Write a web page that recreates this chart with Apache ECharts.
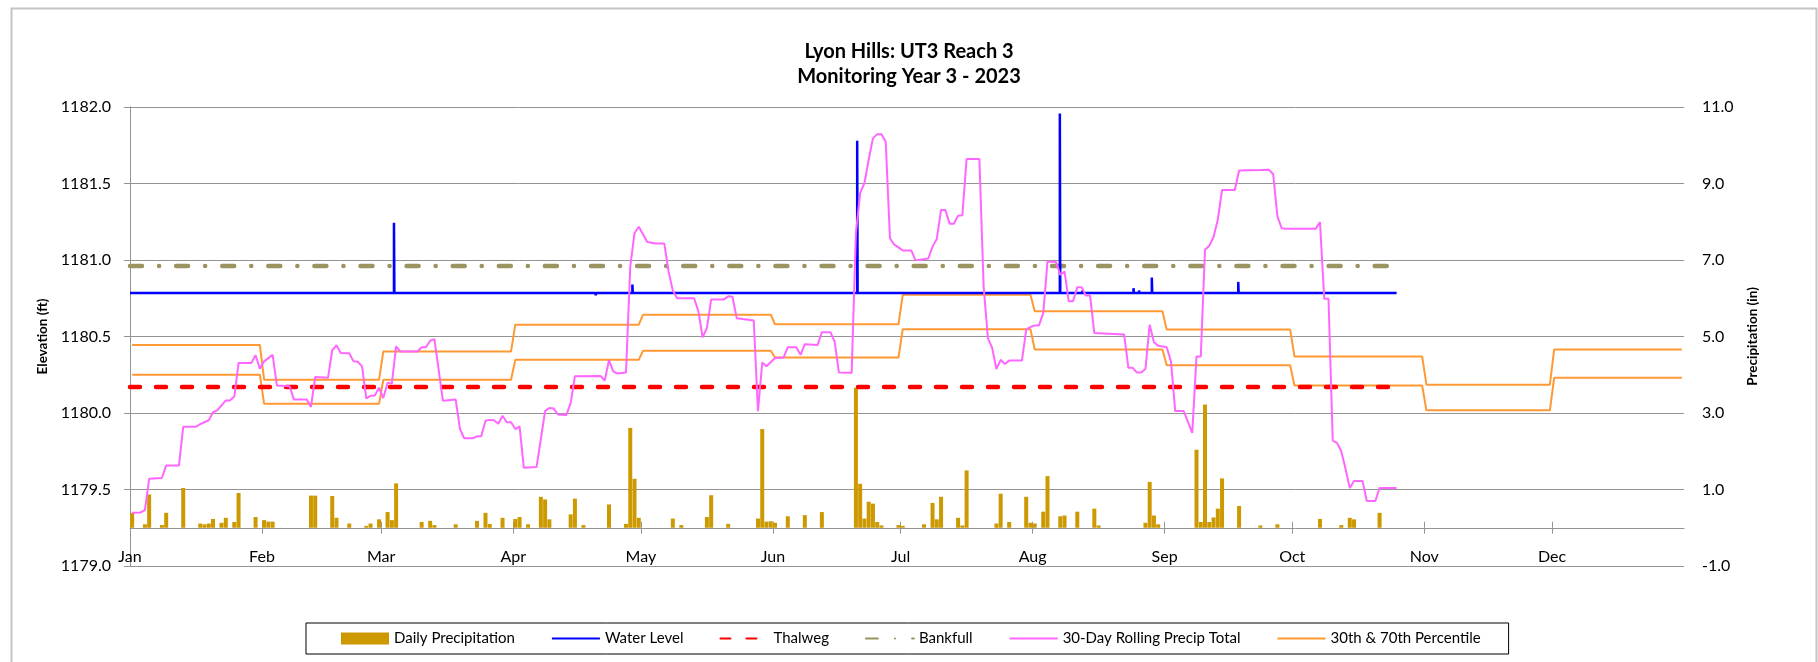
<!DOCTYPE html>
<html>
<head>
<meta charset="utf-8">
<script src="https://cdn.jsdelivr.net/npm/echarts@6/dist/echarts.min.js"></script>
<style>
  html, body { margin: 0; padding: 0; background: #fff; }
  #chart { width: 1818px; height: 662px; }
</style>
</head>
<body>
<div id="chart"></div>
<script>
// month axis
const monthNames = ['Jan', 'Feb', 'Mar', 'Apr', 'May', 'Jun', 'Jul', 'Aug', 'Sep', 'Oct', 'Nov', 'Dec']
const monthStarts = [0, 31, 59, 90, 120, 151, 181, 212, 243, 273, 304, 334]
const monthLengths = [31, 28, 31, 30, 31, 30, 31, 31, 30, 31, 30, 31]

// 30th / 70th percentile of 30-day rolling precip (in), one value per month
const pct70 = [4.78, 3.87, 4.61, 5.31, 5.57, 5.32, 6.09, 5.66, 5.18, 4.48, 3.74, 4.66]
const pct30 = [4.00, 3.24, 3.87, 4.39, 4.63, 4.45, 5.19, 4.66, 4.25, 3.72, 3.07, 3.92]

// reference elevations (ft) and the span of the gauge record (days from Jan 1)
const thalweg = 1180.17
const bankfull = 1180.96
const recordSpan = [0, 297.5]

// water level (ft): [days from Jan 1, elevation]
const waterLevel = [
  [0, 1180.785], [62, 1180.785], [62, 1181.244], [62.1, 1180.785],
  [109.3, 1180.785], [109.4, 1180.77], [109.5, 1180.785],
  [118, 1180.785], [118, 1180.84], [118.1, 1180.785],
  [170.8, 1180.785], [170.8, 1181.78], [170.9, 1180.785],
  [218.4, 1180.785], [218.4, 1181.958], [218.5, 1180.785],
  [223.7, 1180.785], [223.7, 1180.80], [223.8, 1180.785],
  [235.7, 1180.785], [235.7, 1180.816], [235.8, 1180.785],
  [237, 1180.785], [237, 1180.80], [237.1, 1180.785],
  [240, 1180.785], [240, 1180.885], [240.1, 1180.785],
  [260.3, 1180.785], [260.3, 1180.857], [260.4, 1180.785],
  [297.5, 1180.785]
]

// daily precipitation (in): [day of year, inches]
const dailyPrecip = [
  [1, 0.39], [4, 0.09], [5, 0.87], [8, 0.07], [9, 0.39], [13, 1.04], [17, 0.11], [18, 0.09],
  [19, 0.11], [20, 0.23], [22, 0.13], [23, 0.26], [25, 0.15], [26, 0.91], [30, 0.28], [32, 0.20],
  [33, 0.16], [34, 0.16], [43, 0.84], [44, 0.84], [48, 0.83], [49, 0.26], [52, 0.11], [56, 0.05],
  [57, 0.11], [59, 0.22], [61, 0.41], [62, 0.20], [63, 1.16], [69, 0.15], [71, 0.18], [72, 0.07],
  [77, 0.09], [82, 0.18], [84, 0.39], [85, 0.10], [88, 0.26], [91, 0.23], [92, 0.28], [94, 0.09],
  [97, 0.81], [98, 0.74], [99, 0.22], [104, 0.35], [105, 0.76], [107, 0.07], [113, 0.61], [117, 0.10],
  [118, 2.61], [119, 1.28], [120, 0.26], [128, 0.24], [130, 0.07], [136, 0.28], [137, 0.85], [141, 0.10],
  [148, 0.24], [149, 2.58], [150, 0.16], [151, 0.17], [152, 0.13], [155, 0.30], [159, 0.33], [163, 0.41],
  [171, 3.66], [172, 1.15], [173, 0.24], [174, 0.68], [175, 0.63], [176, 0.15], [177, 0.06], [181, 0.07],
  [182, 0.05], [187, 0.09], [189, 0.65], [190, 0.22], [191, 0.81], [195, 0.26], [196, 0.06], [197, 1.50],
  [204, 0.11], [205, 0.89], [207, 0.15], [211, 0.81], [212, 0.13], [213, 0.11], [215, 0.42], [216, 1.35],
  [219, 0.30], [220, 0.32], [223, 0.42], [227, 0.50], [228, 0.06], [239, 0.13], [240, 1.20], [241, 0.32],
  [242, 0.09], [251, 2.04], [252, 0.15], [253, 3.22], [254, 0.15], [255, 0.27], [256, 0.50], [257, 1.29],
  [261, 0.57], [266, 0.06], [270, 0.09], [280, 0.23], [285, 0.07], [287, 0.26], [288, 0.22], [294, 0.39]
]

// 30-day rolling precip total (in): [day of year, inches]
const rollingPrecip = [
  [1, 0.39], [3, 0.40], [4, 0.46], [5, 1.28], [8, 1.30], [9, 1.63], [12, 1.63], [13, 2.64], [16, 2.64],
  [17, 2.71], [19, 2.81], [20, 3.02], [21, 3.07], [23, 3.33], [24, 3.33], [25, 3.43], [26, 4.31], [29, 4.31],
  [30, 4.51], [31, 4.16], [32, 4.35], [34, 4.52], [35, 3.72], [38, 3.70], [39, 3.35], [42, 3.35], [43, 3.16],
  [44, 3.94], [47, 3.92], [48, 4.64], [49, 4.77], [50, 4.57], [52, 4.56], [53, 4.35], [54, 4.34], [55, 4.22],
  [56, 3.38], [57, 3.45], [58, 3.46], [59, 3.66], [60, 3.39], [61, 3.79], [62, 3.77], [63, 4.74], [64, 4.61],
  [68, 4.61], [69, 4.72], [70, 4.72], [71, 4.89], [72, 4.93], [74, 3.32], [77, 3.35], [78, 2.58], [79, 2.34],
  [81, 2.34], [82, 2.39], [83, 2.39], [84, 2.80], [85, 2.82], [86, 2.81], [87, 2.72], [88, 2.93], [89, 2.76],
  [90, 2.76], [91, 2.58], [92, 2.65], [93, 1.57], [96, 1.59], [97, 2.32], [98, 3.05], [99, 3.13], [100, 3.12],
  [101, 2.96], [103, 2.95], [104, 3.26], [105, 3.96], [111, 3.97], [112, 3.85], [113, 4.38], [114, 4.09],
  [115, 4.03], [117, 4.06], [118, 6.83], [119, 7.70], [120, 7.87], [122, 7.47], [124, 7.43], [126, 7.43],
  [127, 6.70], [128, 6.20], [129, 6.00], [133, 6.00], [134, 5.66], [135, 4.98], [136, 5.22], [137, 5.97],
  [140, 5.97], [141, 6.05], [142, 6.04], [143, 5.48], [147, 5.42], [148, 3.05], [149, 4.32], [150, 4.22],
  [152, 4.44], [154, 4.45], [155, 4.72], [157, 4.72], [158, 4.52], [159, 4.80], [162, 4.78], [163, 5.11],
  [165, 5.11], [166, 4.87], [167, 4.06], [170, 4.05], [171, 7.70], [172, 8.75], [173, 9.01], [174, 9.62],
  [175, 10.18], [176, 10.29], [177, 10.29], [178, 10.09], [179, 7.57], [180, 7.40], [181, 7.33], [182, 7.25],
  [184, 7.25], [185, 6.99], [188, 7.04], [189, 7.35], [190, 7.55], [191, 8.31], [192, 8.31], [193, 7.95],
  [194, 7.95], [195, 8.16], [196, 8.17], [197, 9.64], [200, 9.64], [201, 6.31], [202, 4.96], [203, 4.70],
  [204, 4.15], [205, 4.39], [206, 4.28], [207, 4.37], [210, 4.37], [211, 5.18], [212, 5.25], [213, 5.29],
  [214, 5.29], [215, 5.61], [216, 6.96], [218, 6.95], [219, 6.61], [220, 6.70], [221, 5.92], [222, 5.92],
  [223, 6.29], [224, 6.29], [225, 6.07], [226, 6.07], [227, 5.09], [234, 5.05], [235, 4.18], [236, 4.18],
  [237, 4.06], [238, 4.06], [239, 4.15], [240, 5.31], [241, 4.85], [242, 4.76], [244, 4.72], [245, 4.35],
  [246, 3.05], [248, 3.05], [250, 2.48], [251, 4.48], [252, 4.48], [253, 7.27], [254, 7.37], [255, 7.60],
  [256, 8.05], [257, 8.83], [260, 8.83], [261, 9.34], [266, 9.35], [268, 9.36], [269, 9.25], [270, 8.14],
  [271, 7.83], [272, 7.82], [279, 7.82], [280, 7.99], [281, 5.99], [282, 5.99], [283, 2.28], [284, 2.22],
  [285, 2.00], [286, 1.54], [287, 1.04], [288, 1.22], [290, 1.22], [291, 0.70], [293, 0.70], [294, 1.04],
  [298, 1.04]
]

// right axis tick labels
const precipTicks = [-1, 1, 3, 5, 7, 9, 11]

// day of year -> centre of that day on the x axis
const dayCentre = (doy) => doy - 0.5

const monthlyToDaily = (vals) => {
  const out = []
  let doy = 1
  monthLengths.forEach((len, m) => {
    for (let i = 0; i < len; i++) out.push([dayCentre(doy++), vals[m]])
  })
  return out
}

const FONT = 'Lato, "Open Sans", sans-serif'
const GRID_GREY = '#949494'

// plot box
const GRID_TOP = 107
const GRID_BOTTOM = 96
const PLOT_H = 662 - GRID_TOP - GRID_BOTTOM
// the date axis sits on 0 in of the precipitation axis (-1 .. 11)
const X_AXIS_OFFSET = -PLOT_H * (0 - -1) / (11 - -1)

const chart = echarts.init(document.getElementById('chart'))

const lineBase = { type: 'line', symbol: 'none', animation: false }
const noSymbol = { opacity: 0 }

const option = {
  backgroundColor: '#fff',
  animation: false,
  textStyle: { fontFamily: FONT, color: '#000' },
  title: {
    text: 'Lyon Hills: UT3 Reach 3\nMonitoring Year 3 - 2023',
    left: 'center',
    top: 34,
    textStyle: { fontFamily: FONT, fontSize: 20, fontWeight: 'bold', lineHeight: 25, color: '#000' },
  },
  graphic: [
    {
      type: 'rect',
      left: 9,
      top: 6,
      z: -10,
      shape: { width: 1805, height: 700 },
      style: { fill: 'none', stroke: '#c4c4c4', lineWidth: 2 },
    },
  ],
  legend: {
    left: 306,
    top: 623,
    padding: [7, 28, 7, 35],
    borderColor: '#000',
    borderWidth: 1,
    itemWidth: 48,
    itemHeight: 12,
    itemGap: 36,
    textStyle: { fontFamily: FONT, fontSize: 15, lineHeight: 17, color: '#000' },
    data: [
      { name: 'Daily Precipitation', icon: 'rect' },
      { name: 'Water Level', itemStyle: noSymbol },
      { name: 'Thalweg', itemStyle: noSymbol },
      { name: 'Bankfull', itemStyle: noSymbol },
      { name: '30-Day Rolling Precip Total', itemStyle: noSymbol },
      { name: '30th & 70th Percentile', itemStyle: noSymbol },
    ],
  },
  grid: { left: 130, right: 134, top: GRID_TOP, bottom: GRID_BOTTOM },
  xAxis: [
    {
      type: 'value',
      min: 0,
      max: 365,
      position: 'bottom',
      offset: X_AXIS_OFFSET,
      axisLine: { onZero: false, lineStyle: { color: GRID_GREY } },
      axisTick: { customValues: monthStarts, length: 6, lineStyle: { color: GRID_GREY } },
      axisLabel: {
        customValues: monthStarts,
        margin: 21,
        fontSize: 16,
        color: '#000',
        fontFamily: FONT,
        formatter: (v) => monthNames[monthStarts.indexOf(v)] || '',
      },
      splitLine: { show: false },
    },
    {
      // inner half of the crossing month ticks
      type: 'value',
      min: 0,
      max: 365,
      position: 'bottom',
      offset: X_AXIS_OFFSET,
      axisLine: { show: false, onZero: false },
      axisTick: { inside: true, customValues: monthStarts, length: 6, lineStyle: { color: GRID_GREY } },
      axisLabel: { show: false },
      splitLine: { show: false },
    },
  ],
  yAxis: [
    {
      type: 'value',
      min: 1179,
      max: 1182,
      interval: 0.5,
      name: 'Elevation (ft)',
      nameLocation: 'middle',
      nameRotate: 90,
      nameGap: 79,
      nameTextStyle: { fontFamily: FONT, fontSize: 13.5, fontWeight: 'bold', color: '#000' },
      axisLine: { show: true, lineStyle: { color: GRID_GREY } },
      axisTick: { show: true, length: 6, lineStyle: { color: GRID_GREY } },
      axisLabel: { margin: 19, fontSize: 16, color: '#000', fontFamily: FONT, formatter: (v) => v.toFixed(1) },
      splitLine: { show: true, lineStyle: { color: GRID_GREY, width: 1 } },
    },
    {
      type: 'value',
      position: 'right',
      min: -1,
      max: 11,
      name: 'Precipitation (in)',
      nameLocation: 'middle',
      nameRotate: 90,
      nameGap: 62,
      nameTextStyle: { fontFamily: FONT, fontSize: 13.5, fontWeight: 'bold', color: '#000' },
      axisLine: { show: true, lineStyle: { color: GRID_GREY } },
      axisTick: { show: true, customValues: precipTicks, length: 6, lineStyle: { color: GRID_GREY } },
      axisLabel: {
        customValues: precipTicks,
        margin: 18,
        fontSize: 16,
        color: '#000',
        fontFamily: FONT,
        formatter: (v) => v.toFixed(1),
      },
      splitLine: { show: false },
    },
  ],
  series: [
    {
      name: 'Daily Precipitation',
      type: 'bar',
      yAxisIndex: 1,
      barWidth: 4,
      itemStyle: { color: '#CC9900' },
      data: dailyPrecip.map(([d, v]) => [dayCentre(d), v]),
      z: 1,
    },
    {
      ...lineBase,
      name: '30th & 70th Percentile',
      yAxisIndex: 1,
      lineStyle: { color: '#FF9933', width: 2 },
      itemStyle: { color: '#FF9933' },
      data: monthlyToDaily(pct70),
      z: 2,
    },
    {
      ...lineBase,
      name: '30th & 70th Percentile',
      yAxisIndex: 1,
      lineStyle: { color: '#FF9933', width: 2 },
      itemStyle: { color: '#FF9933' },
      data: monthlyToDaily(pct30),
      z: 2,
    },
    {
      ...lineBase,
      name: 'Thalweg',
      yAxisIndex: 0,
      lineStyle: { color: '#FF0000', width: 4.5, type: [10, 16], cap: 'round' },
      itemStyle: { color: '#FF0000' },
      data: recordSpan.map((d) => [d, thalweg]),
      z: 3,
    },
    {
      ...lineBase,
      name: 'Bankfull',
      yAxisIndex: 0,
      lineStyle: { color: '#9B9360', width: 4.5, type: [12, 17, 0.1, 17], cap: 'round' },
      itemStyle: { color: '#9B9360' },
      data: recordSpan.map((d) => [d, bankfull]),
      z: 3,
    },
    {
      ...lineBase,
      name: 'Water Level',
      yAxisIndex: 0,
      lineStyle: { color: '#0000FF', width: 2.5 },
      itemStyle: { color: '#0000FF' },
      data: waterLevel,
      z: 4,
    },
    {
      ...lineBase,
      name: '30-Day Rolling Precip Total',
      yAxisIndex: 1,
      lineStyle: { color: '#FF66FF', width: 2 },
      itemStyle: { color: '#FF66FF' },
      data: rollingPrecip.map(([d, v]) => [dayCentre(d), v]),
      z: 5,
    },
  ],
}

chart.setOption(option)
</script>
</body>
</html>
